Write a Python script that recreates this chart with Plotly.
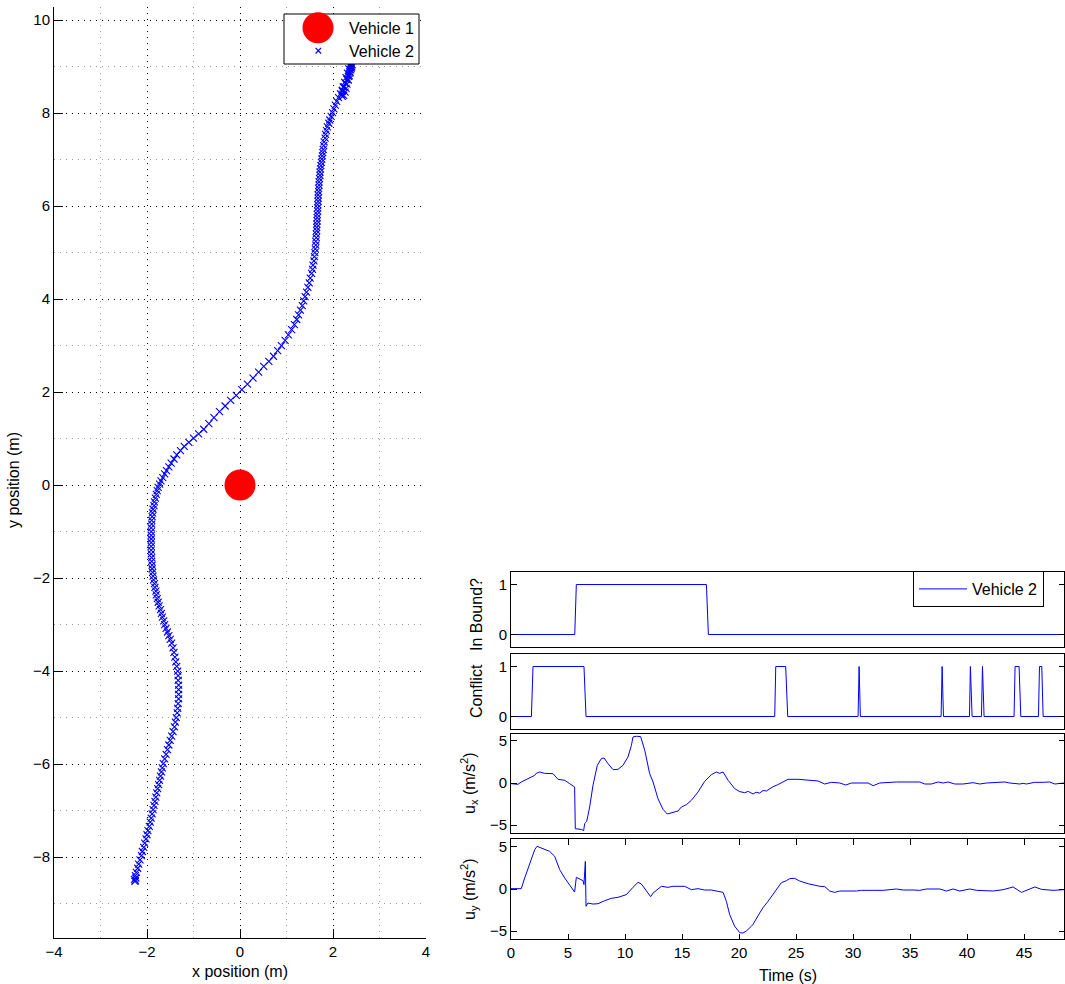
import plotly.graph_objects as go

# ---------------- data ----------------
obstacle_x = [0.0]
obstacle_y = [0.0]

traj_x = [
    -2.26, -2.25, -2.27, -2.24, -2.25, -2.23,
    -2.20, -2.18, -2.15, -2.12, -2.10, -2.07, -2.05, -2.02, -2.00, -1.98, -1.95, -1.93, -1.91,
    -1.89, -1.87, -1.85, -1.83, -1.81, -1.79, -1.77, -1.75, -1.73, -1.71, -1.69, -1.67, -1.65,
    -1.62, -1.59, -1.56, -1.53, -1.50, -1.47, -1.44, -1.41, -1.39, -1.37, -1.35, -1.34, -1.33,
    -1.32, -1.32, -1.32, -1.32, -1.33, -1.33, -1.34, -1.36, -1.38, -1.40, -1.42, -1.44, -1.47,
    -1.50, -1.53, -1.56, -1.59, -1.62, -1.64, -1.67, -1.69, -1.71, -1.74, -1.76, -1.78, -1.80,
    -1.81, -1.83, -1.84, -1.86, -1.87, -1.88, -1.89, -1.89, -1.90, -1.90, -1.91, -1.91, -1.91,
    -1.91, -1.91, -1.91, -1.91, -1.91, -1.90, -1.90, -1.89, -1.88, -1.87, -1.85, -1.84,
    -1.82, -1.80, -1.78, -1.76, -1.73, -1.70, -1.66, -1.62, -1.58, -1.53, -1.48, -1.42, -1.36,
    -1.28, -1.20, -1.10, -1.00, -0.89, -0.78,
    -0.67, -0.56, -0.44, -0.32, -0.20, -0.08, 0.04, 0.16, 0.28, 0.40, 0.51, 0.62, 0.72, 0.81,
    0.89, 0.97, 1.04, 1.11, 1.17, 1.22,
    1.26, 1.30, 1.34, 1.37, 1.40, 1.43, 1.46, 1.49, 1.51, 1.54, 1.56, 1.57, 1.59, 1.60, 1.61,
    1.62, 1.63, 1.63, 1.64, 1.64, 1.65, 1.65, 1.65,
    1.66, 1.66, 1.66, 1.67, 1.67, 1.67, 1.68, 1.68, 1.68, 1.69, 1.69, 1.70, 1.70, 1.71, 1.72,
    1.72, 1.73, 1.74, 1.75, 1.76, 1.77, 1.78, 1.79,
    1.80, 1.81, 1.83, 1.84, 1.86, 1.88, 1.91, 1.93, 1.96, 1.99, 2.02, 2.05, 2.08, 2.12, 2.16,
    2.20, 2.24, 2.27, 2.30, 2.33, 2.36, 2.38, 2.40, 2.41, 2.39,
    2.36, 2.34, 2.31, 2.28, 2.25, 2.22, 2.20, 2.19, 2.20, 2.23, 2.26, 2.28, 2.30, 2.33, 2.35,
    2.37, 2.39, 2.40, 2.38,
]
traj_y = [
    -8.52, -8.50, -8.48, -8.45, -8.40, -8.33,
    -8.24, -8.15, -8.06, -7.97, -7.88, -7.79, -7.70, -7.61, -7.52, -7.43, -7.34, -7.25, -7.16,
    -7.07, -6.98, -6.89, -6.80, -6.71, -6.62, -6.53, -6.44, -6.35, -6.26, -6.17, -6.08, -5.99,
    -5.89, -5.79, -5.69, -5.59, -5.49, -5.40, -5.30, -5.20, -5.10, -5.00, -4.90, -4.80, -4.70,
    -4.60, -4.50, -4.40, -4.30, -4.20, -4.10, -4.00, -3.90, -3.80, -3.70, -3.60, -3.50, -3.40,
    -3.32, -3.24, -3.16, -3.08, -3.00, -2.92, -2.84, -2.76, -2.68, -2.60, -2.52, -2.44, -2.36,
    -2.28, -2.20, -2.12, -2.04, -1.96, -1.88, -1.80, -1.72, -1.64, -1.56, -1.48, -1.40, -1.32,
    -1.24, -1.16, -1.08, -1.00, -0.92, -0.84, -0.76, -0.68, -0.60, -0.52, -0.44, -0.36,
    -0.28, -0.20, -0.12, -0.05, 0.02, 0.09, 0.16, 0.24, 0.31, 0.39, 0.47, 0.56, 0.65,
    0.74, 0.83, 0.92, 1.01, 1.10, 1.20,
    1.32, 1.45, 1.58, 1.70, 1.82, 1.93, 2.05, 2.17, 2.30, 2.43, 2.55, 2.66, 2.77, 2.89,
    3.00, 3.11, 3.23, 3.34, 3.45, 3.56,
    3.66, 3.76, 3.86, 3.96, 4.05, 4.15, 4.25, 4.35, 4.45, 4.55, 4.64, 4.73, 4.82, 4.91, 5.00,
    5.08, 5.16, 5.24, 5.32, 5.40, 5.47, 5.54, 5.61,
    5.68, 5.75, 5.82, 5.89, 5.96, 6.03, 6.10, 6.17, 6.24, 6.31, 6.38, 6.45, 6.52, 6.59, 6.66,
    6.73, 6.80, 6.87, 6.94, 7.01, 7.08, 7.15, 7.22,
    7.30, 7.38, 7.46, 7.54, 7.62, 7.70, 7.78, 7.85, 7.93, 8.01, 8.09, 8.17, 8.25, 8.33, 8.41,
    8.49, 8.57, 8.64, 8.72, 8.79, 8.86, 8.93, 8.99, 9.04, 9.07,
    9.02, 8.95, 8.86, 8.76, 8.66, 8.56, 8.47, 8.40, 8.36, 8.38, 8.45, 8.53, 8.62, 8.71, 8.80,
    8.88, 8.96, 9.01, 9.05,
]

t_inbound = [0, 5.59, 5.73, 17.14, 17.31, 48.5]
inbound = [0, 0, 1, 1, 0, 0]

t_conflict = [0, 1.79, 1.93, 6.40, 6.58,
              23.13, 23.22, 24.09, 24.27,
              30.44, 30.53, 30.64,
              37.72, 37.81, 37.93,
              40.21, 40.29, 40.44,
              41.26, 41.35, 41.49,
              44.12, 44.21, 44.56, 44.71,
              46.26, 46.35, 46.55, 46.67,
              48.5]
conflict = [0, 0, 1, 1, 0,
            0, 1, 1, 0,
            0, 1, 0,
            0, 1, 0,
            0, 1, 0,
            0, 1, 0,
            0, 1, 1, 0,
            0, 1, 1, 0,
            0]

t_ux = [0, 0.61, 0.9, 1.49, 2.08, 2.22, 2.51, 2.95, 3.68, 4.12,
        4.71, 5.15, 5.58, 5.64, 6.17, 6.37, 6.46, 6.64, 6.90, 7.19,
        7.57, 7.92, 8.16, 8.51, 8.95, 9.39, 9.82, 10.26, 10.56, 10.70,
        11.0, 11.37, 11.73, 12.16, 12.46, 12.89, 13.33, 13.71, 14.06, 14.65,
        14.94, 15.38, 15.82, 16.4, 16.99, 17.57, 18.01, 18.3, 18.6, 19.04,
        19.62, 20.06, 20.5, 20.8, 21.23, 21.5, 21.8, 22.1, 22.4, 22.7,
        22.98, 23.4, 23.86, 24.3, 25.18, 26.35, 26.93, 27.52, 28.1, 28.83,
        29.36, 29.86, 31.32, 31.76, 32.34, 33.8, 35.85, 36.29, 36.87, 37.46,
        37.9, 38.33, 38.92, 39.65, 40.53, 41.11, 41.7, 43.31, 43.74, 44.62,
        44.91, 45.2, 45.94, 46.67, 47.25, 47.69, 48.5]
ux = [-0.08, -0.16, 0.12, 0.52, 0.91, 1.15, 1.31, 1.15, 1.11, 0.44,
      0.32, -0.08, -0.48, -5.44, -5.52, -5.67, -4.84, -4.56, -2.86, -0.28,
      2.1, 2.9, 2.98, 2.3, 1.59, 1.63, 2.1, 3.1, 4.48, 5.48,
      5.56, 5.52, 3.89, 1.11, 0.12, -1.87, -3.13, -3.69, -3.57, -3.33,
      -2.86, -2.58, -2.06, -1.07, 0.2, 0.99, 1.31, 1.15, 1.31, 0.32,
      -0.67, -1.03, -1.15, -1.0, -1.31, -1.1, -1.2, -0.9, -0.95, -0.65,
      -0.44, -0.2, 0.16, 0.44, 0.44, 0.36, 0.24, -0.12, 0.08, 0,
      -0.24, 0, 0, -0.32, 0, 0.12, 0.12, -0.12, -0.12, 0.12,
      0, 0.12, -0.12, -0.12, 0.04, -0.12, 0, 0.12, 0, -0.12,
      -0.04, -0.12, 0.08, 0.08, 0.12, -0.12, 0]

t_uy = [0, 0.9, 1.2, 1.64, 2.08, 2.28, 2.51, 2.95, 3.39, 3.83,
        4.27, 4.71, 5.15, 5.58, 5.73, 6.02, 6.32, 6.40, 6.52, 6.58,
        6.75, 7.19, 7.63, 8.22, 8.8, 9.39, 10.12, 10.7, 11.14, 11.43,
        11.87, 12.25, 12.46, 13.19, 13.77, 14.21, 15.23, 15.82, 16.4, 16.99,
        17.57, 18.6, 18.89, 19.18, 19.62, 20.06, 20.35, 20.64, 21.08, 21.23,
        21.81, 22.1, 22.54, 22.98, 23.42, 23.71, 24.15, 24.45, 24.88, 25.32,
        26.05, 27.08, 27.52, 27.95, 28.39, 28.83, 30.29, 30.73, 31.76, 32.63,
        33.8, 34.39, 35.26, 35.85, 36.43, 37.6, 38.19, 38.77, 39.36, 40.24,
        40.82, 42.28, 43.16, 44.04, 44.77, 45.94, 46.52, 47.54, 48.5]
uy = [0.04, 0.04, 1.31, 3.10, 4.68, 5.08, 4.96, 4.76, 4.48, 3.89,
      2.30, 1.31, 0.52, -0.36, 1.39, 1.23, 0.99, 0.52, 3.29, -2.06,
      -1.67, -1.79, -1.75, -1.39, -1.11, -0.99, -0.67, 0.2, 0.79, 0.6,
      -0.28, -0.91, -0.48, 0.32, 0.2, 0.32, 0.32, -0.08, 0.04, -0.12,
      -0.12, -0.4, -1.47, -3.06, -4.44, -5.2, -5.24, -5.0, -4.44, -4.2,
      -2.86, -2.22, -1.47, -0.63, 0.32, 0.75, 0.99, 1.23, 1.27, 0.95,
      0.63, 0.32, 0.28, -0.24, -0.4, -0.24, -0.24, -0.16, -0.16, -0.16,
      0, -0.12, -0.12, -0.16, 0, 0, -0.24, 0, -0.24, 0,
      -0.16, -0.24, -0.08, 0.24, -0.4, 0.24, -0.04, -0.16, -0.08]

assert len(traj_x) == len(traj_y), (len(traj_x), len(traj_y))
assert len(t_ux) == len(ux), (len(t_ux), len(ux))
assert len(t_uy) == len(uy), (len(t_uy), len(uy))
assert len(t_conflict) == len(conflict)

# ---------------- style ----------------
W, H = 1065, 984
def fx(p):
    return p / W
def fy(p):
    return 1 - p / H

FONT = "Liberation Sans, Arial, Helvetica, sans-serif"
BLUE = "#0000ff"
RED = "#ff0000"
TICKFONT = dict(family=FONT, size=15, color="black")
LABELFONT = dict(family=FONT, size=16, color="black")

fig = go.Figure()

# left trajectory plot
fig.add_trace(go.Scatter(
    x=traj_x, y=traj_y, mode="markers", name="Vehicle 2", showlegend=False,
    marker=dict(symbol="x-thin", size=7, color=BLUE, line=dict(width=1.1, color=BLUE)),
    xaxis="x", yaxis="y"))
fig.add_trace(go.Scatter(
    x=obstacle_x, y=obstacle_y, mode="markers", name="Vehicle 1", showlegend=False,
    marker=dict(symbol="circle", size=31, color=RED, line=dict(width=0)),
    xaxis="x", yaxis="y"))

# right panels
line_style = dict(color=BLUE, width=1)
fig.add_trace(go.Scatter(x=t_inbound, y=inbound, mode="lines", line=line_style,
                         name="Vehicle 2", showlegend=True, xaxis="x2", yaxis="y2"))
fig.add_trace(go.Scatter(x=t_conflict, y=conflict, mode="lines", line=line_style,
                         showlegend=False, xaxis="x3", yaxis="y3"))
fig.add_trace(go.Scatter(x=t_ux, y=ux, mode="lines", line=line_style,
                         showlegend=False, xaxis="x4", yaxis="y4"))
fig.add_trace(go.Scatter(x=t_uy, y=uy, mode="lines", line=line_style,
                         showlegend=False, xaxis="x5", yaxis="y5"))

GRID_DASH = "1px,5px"
left_x = dict(domain=[fx(54), fx(426)], range=[-4, 4], tickmode="array",
              tickvals=[-4, -2, 0, 2, 4], ticks="inside", ticklen=9, tickcolor="black",
              tickfont=TICKFONT, showline=True, linecolor="black", linewidth=1,
              mirror=False, zeroline=False, showgrid=True, gridcolor="black",
              gridwidth=1, griddash=GRID_DASH, anchor="y", automargin=False,
              minor=dict(tickmode="array", tickvals=[-3, -1, 1, 3], showgrid=True,
                         gridcolor="#9a9a9a", griddash=GRID_DASH, gridwidth=1, ticks=""))
left_y = dict(domain=[fy(938), fy(7)], range=[-9.74, 10.28], tickmode="array",
              tickvals=[-8, -6, -4, -2, 0, 2, 4, 6, 8, 10], ticks="inside", ticklen=9,
              tickcolor="black", tickfont=TICKFONT, showline=True, linecolor="black",
              linewidth=1, mirror=False, zeroline=False, showgrid=True, gridcolor="black",
              gridwidth=1, griddash=GRID_DASH, anchor="x", automargin=False,
              minor=dict(tickmode="array", tickvals=[-9, -7, -5, -3, -1, 1, 3, 5, 7, 9],
                         showgrid=True, gridcolor="#9a9a9a", griddash=GRID_DASH,
                         gridwidth=1, ticks=""))

RX = [fx(511), fx(1064)]
def rx(anchor, bottom=False):
    d = dict(domain=RX, range=[0, 48.5], showline=True, linecolor="black", linewidth=1,
             zeroline=False, showgrid=False, anchor=anchor, automargin=False)
    if bottom:
        d.update(tickmode="array", tickvals=[0, 5, 10, 15, 20, 25, 30, 35, 40, 45],
                 ticks="inside", ticklen=5.5, tickcolor="black", tickfont=TICKFONT,
                 mirror="ticks")
    else:
        d.update(showticklabels=False, ticks="", mirror=True)
    return d

def ry(anchor, top, bot, rng, vals):
    return dict(domain=[fy(bot), fy(top)], range=rng, tickmode="array", tickvals=vals,
                ticks="inside", ticklen=5.5, tickcolor="black", tickfont=TICKFONT,
                showline=True, linecolor="black", linewidth=1, mirror="ticks",
                zeroline=False, showgrid=False, anchor=anchor, automargin=False)

fig.update_layout(
    width=W, height=H, margin=dict(l=0, r=0, t=0, b=0, pad=0, autoexpand=False),
    paper_bgcolor="white", plot_bgcolor="white",
    font=dict(family=FONT, size=15, color="black"),
    xaxis=left_x, yaxis=left_y,
    xaxis2=rx("y2"), yaxis2=ry("x2", 572, 647, [-0.25, 1.25], [0, 1]),
    xaxis3=rx("y3"), yaxis3=ry("x3", 654, 729, [-0.25, 1.25], [0, 1]),
    xaxis4=rx("y4"), yaxis4=ry("x4", 734, 833, [-5.95, 5.83], [-5, 0, 5]),
    xaxis5=rx("y5", bottom=True), yaxis5=ry("x5", 839, 939, [-5.95, 5.95], [-5, 0, 5]),
    legend=dict(x=fx(1044), xanchor="right", y=fy(571), yanchor="top",
                bordercolor="black", borderwidth=1, bgcolor="white",
                font=LABELFONT, tracegroupgap=0, itemwidth=48),
    showlegend=True,
)

# axis labels
ann = [
    dict(text="x position (m)", x=fx(240), y=fy(971)),
    dict(text="y position (m)", x=fx(13), y=fy(480), textangle=-90),
    dict(text="Time (s)", x=fx(787.5), y=fy(975)),
    dict(text="In Bound?", x=fx(476), y=fy(615), textangle=-90),
    dict(text="Conflict", x=fx(476), y=fy(691), textangle=-90),
    dict(text="u<sub>x</sub> (m/s<sup>2</sup>)", x=fx(469), y=fy(783), textangle=-90),
    dict(text="u<sub>y</sub> (m/s<sup>2</sup>)", x=fx(469), y=fy(889), textangle=-90),
    # left legend labels
    dict(text="Vehicle 1", x=fx(347), y=fy(29), xanchor="left"),
    dict(text="Vehicle 2", x=fx(347), y=fy(51), xanchor="left"),
]
for a in ann:
    a.setdefault("xanchor", "center")
    a.update(xref="paper", yref="paper", yanchor="middle", showarrow=False, font=LABELFONT)
fig.update_layout(annotations=ann)

# left legend box and its symbols
cx, cy = 318.3, 50.7
s = 2.8
shapes = [
    dict(type="rect", xref="paper", yref="paper", x0=fx(284), x1=fx(419), y0=fy(64), y1=fy(14),
         line=dict(color="black", width=1), fillcolor="white", layer="above"),
    dict(type="circle", xref="paper", yref="paper", x0=fx(302.5), x1=fx(333.5),
         y0=fy(43.3), y1=fy(12.3), line=dict(width=0), fillcolor=RED, layer="above"),
    dict(type="path", xref="paper", yref="paper",
         path=f"M {fx(cx-s)} {fy(cy-s)} L {fx(cx+s)} {fy(cy+s)} M {fx(cx-s)} {fy(cy+s)} L {fx(cx+s)} {fy(cy-s)}",
         line=dict(color=BLUE, width=1.2), layer="above"),
]
fig.update_layout(shapes=shapes)

fig.write_html("out.html")
